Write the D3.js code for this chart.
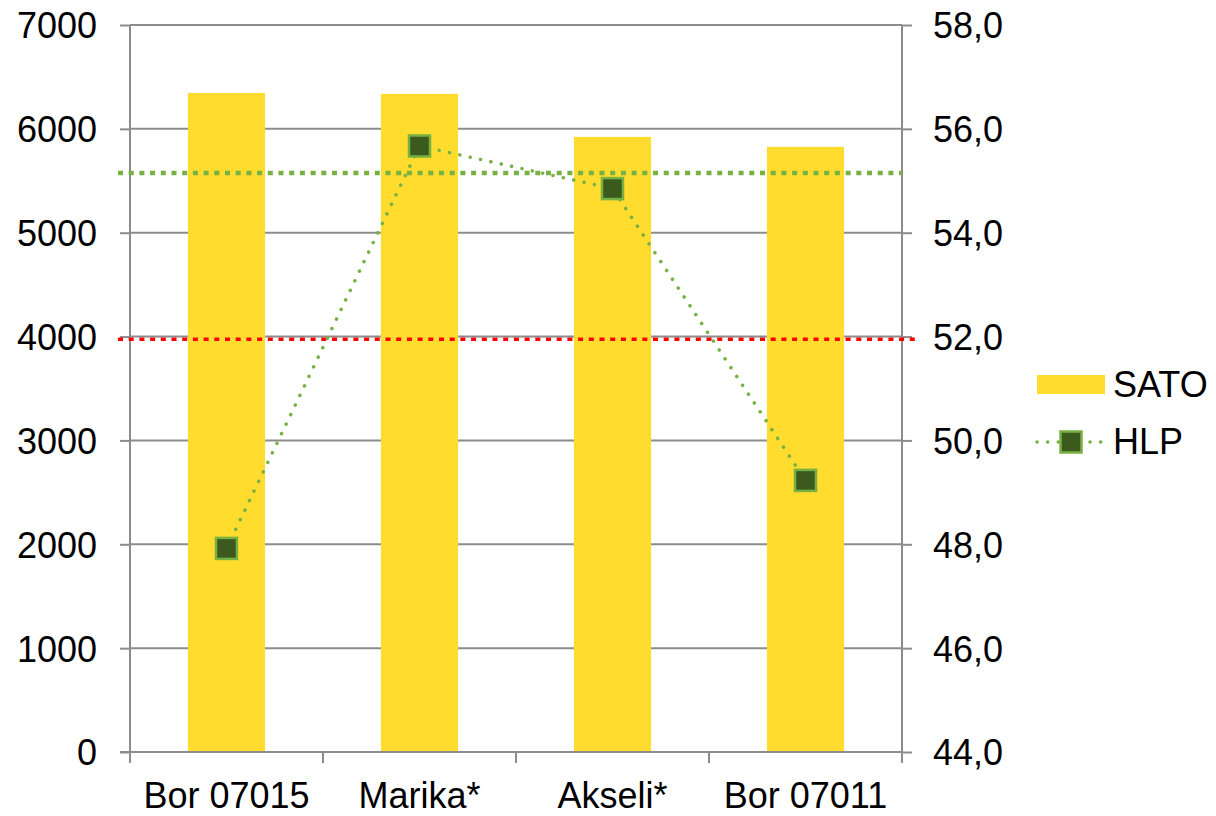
<!DOCTYPE html>
<html><head><meta charset="utf-8">
<script src="https://cdn.jsdelivr.net/npm/d3@7"></script>
<style>body{margin:0;background:#fff}text{font-family:"Liberation Sans",Arial,sans-serif;fill:#000}</style>
</head><body><svg id="c" width="1216" height="816"></svg>
<script>
const categories = ["Bor 07015", "Marika*", "Akseli*", "Bor 07011"];
const sato = [6346, 6337, 5923, 5827];
const hlp = [47.92, 55.67, 54.85, 49.23];
const leftTicks = [0, 1000, 2000, 3000, 4000, 5000, 6000, 7000];
const rightTicks = [44, 46, 48, 50, 52, 54, 56, 58];
const refGreen = 55.15;  // right-axis value
const refRed = 51.95;    // right-axis value

const svg = d3.select("#c");
const L = 130, R = 902, T = 25, B = 752;
const FS = "36px";
const x = d3.scaleBand().domain(categories).range([L, R]).paddingInner(0).paddingOuter(0);
const yL = d3.scaleLinear().domain([0, 7000]).range([B, T]);
const yR = d3.scaleLinear().domain([44, 58]).range([B, T]);
const gray = "#8c8c8c";

// gridlines
svg.append("g").selectAll("line").data(leftTicks.slice(1)).join("line")
  .attr("x1", L).attr("x2", R).attr("y1", d => yL(d)).attr("y2", d => yL(d))
  .attr("stroke", gray).attr("stroke-width", 2);

// bars
const bw = x.bandwidth() * 0.4;
svg.append("g").selectAll("rect").data(sato).join("rect")
  .attr("x", (d, i) => x(categories[i]) + x.bandwidth() / 2 - bw / 2)
  .attr("width", bw)
  .attr("y", d => yL(d)).attr("height", d => B - yL(d))
  .attr("fill", "#FFDC2D");

// left axis
const la = svg.append("g").attr("transform", `translate(${L},0)`)
  .call(d3.axisLeft(yL).tickValues(leftTicks).tickSize(10).tickPadding(10).tickFormat(d3.format("d")));
la.selectAll("path,line").attr("stroke", gray).attr("stroke-width", 2);
la.select(".domain").attr("d", `M0,${T}V${B}`);
la.selectAll("text").style("font-size", FS).attr("font-family", null).attr("dy", "0.36em").attr("x", -33);

// right axis
const ra = svg.append("g").attr("transform", `translate(${R},0)`)
  .call(d3.axisRight(yR).tickValues(rightTicks).tickSize(10).tickPadding(10).tickFormat(d => d3.format(".1f")(d).replace(".", ",")));
ra.selectAll("path,line").attr("stroke", gray).attr("stroke-width", 2);
ra.select(".domain").attr("d", `M0,${T}V${B}`);
ra.selectAll("text").style("font-size", FS).attr("font-family", null).attr("dy", "0.36em").attr("x", 31);

// bottom axis
const ba = svg.append("g").attr("transform", `translate(0,${B})`)
  .call(d3.axisBottom(x).tickSize(0).tickPadding(0));
ba.select(".domain").attr("d", `M${L - 10},0H${R}`).attr("stroke", gray).attr("stroke-width", 2);
ba.selectAll("text").style("font-size", FS).attr("font-family", null).attr("y", 56).attr("dy", 0);
svg.append("g").selectAll("line").data(d3.range(categories.length + 1)).join("line")
  .attr("x1", i => L + i * x.bandwidth()).attr("x2", i => L + i * x.bandwidth())
  .attr("y1", B).attr("y2", B + 11).attr("stroke", gray).attr("stroke-width", 2);

// reference lines
svg.append("line").attr("x1", 118).attr("x2", R).attr("y1", yR(refGreen)).attr("y2", yR(refGreen))
  .attr("stroke", "#77B043").attr("stroke-width", 4.5).attr("stroke-dasharray", "5,5.7");
svg.append("line").attr("x1", 118).attr("x2", 920).attr("y1", yR(refRed)).attr("y2", yR(refRed))
  .attr("stroke", "#FF0000").attr("stroke-width", 3.5).attr("stroke-dasharray", "5,5.7");

// HLP line
const cx = i => x(categories[i]) + x.bandwidth() / 2;
svg.append("path").datum(hlp)
  .attr("d", d3.line().x((d, i) => cx(i)).y(d => yR(d)))
  .attr("fill", "none").attr("stroke", "#77B043").attr("stroke-width", 3.5)
  .attr("stroke-linecap", "round").attr("stroke-dasharray", "0.1,10.5");
const ms = 21;
svg.append("g").selectAll("rect").data(hlp).join("rect")
  .attr("x", (d, i) => cx(i) - ms / 2).attr("y", d => yR(d) - ms / 2)
  .attr("width", ms).attr("height", ms)
  .attr("fill", "#3C5A1E").attr("stroke", "#77B043").attr("stroke-width", 2.5);

// legend
const lg = svg.append("g");
lg.append("rect").attr("x", 1037).attr("y", 375).attr("width", 68).attr("height", 19).attr("fill", "#FFDC2D");
lg.append("text").attr("x", 1113).attr("y", 397).style("font-size", FS).text("SATO");
lg.append("line").attr("x1", 1037).attr("x2", 1105).attr("y1", 442).attr("y2", 442)
  .attr("stroke", "#77B043").attr("stroke-width", 3.5).attr("stroke-linecap", "round").attr("stroke-dasharray", "0.1,10.5");
lg.append("rect").attr("x", 1071 - ms / 2).attr("y", 442 - ms / 2).attr("width", ms).attr("height", ms)
  .attr("fill", "#3C5A1E").attr("stroke", "#77B043").attr("stroke-width", 2.5);
lg.append("text").attr("x", 1113).attr("y", 454).style("font-size", FS).text("HLP");
</script></body></html>
